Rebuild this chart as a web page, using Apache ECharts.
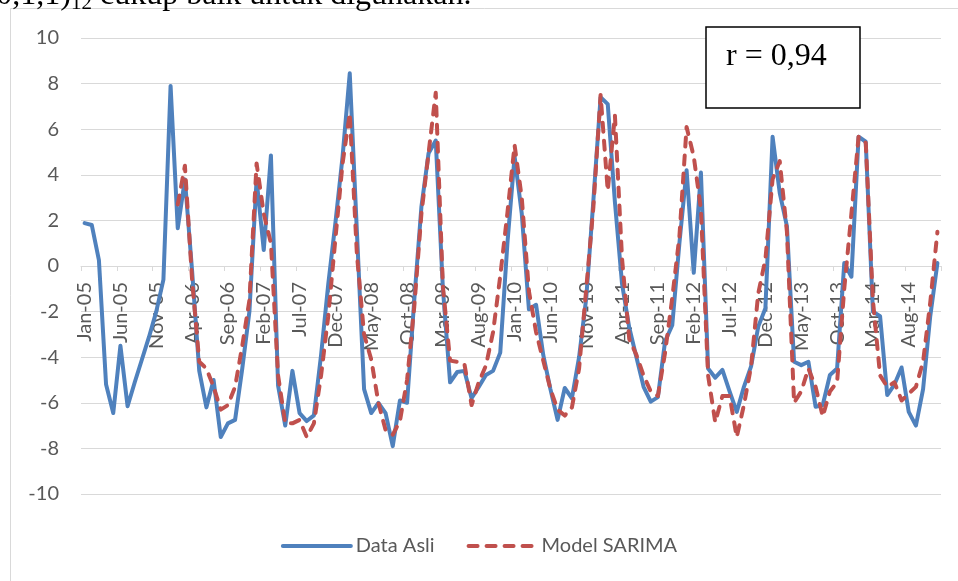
<!DOCTYPE html>
<html>
<head>
<meta charset="utf-8">
<script src="https://cdn.jsdelivr.net/npm/echarts@6/dist/echarts.min.js"></script>
<style>
  html, body { margin: 0; padding: 0; background: #fff; }
  #main { width: 958px; height: 581px; }
</style>
</head>
<body>
<div id="main"></div>
<script>
// bulan dan tahun untuk sumbu x (Jan-05 .. Dec-14)
var months = ['Jan', 'Feb', 'Mar', 'Apr', 'May', 'Jun', 'Jul', 'Aug', 'Sep', 'Oct', 'Nov', 'Dec'];
var years = ['05', '06', '07', '08', '09', '10', '11', '12', '13', '14'];
var categories = [];
years.forEach(function (y) {
  months.forEach(function (m) { categories.push(m + '-' + y); });
});

var yTicks = [-10, -8, -6, -4, -2, 0, 2, 4, 6, 8, 10];

// data asli
var dataAsli = [
  1.88, 1.80, 0.26, -5.2, -6.45, -3.5, -6.15, -5.1, -4.1, -3.1, -2.0, -0.6,
  7.9, 1.66, 3.8, -0.2, -4.6, -6.2, -5.0, -7.5, -6.9, -6.75, -4.5, -2.0,
  3.8, 0.7, 4.85, -5.25, -7.0, -4.6, -6.45, -6.8, -6.55, -3.9, -0.8, 1.9,
  4.8, 8.45, 1.5, -5.4, -6.45, -6.0, -6.45, -7.9, -5.9, -6.0, -1.5, 2.6,
  4.95, 5.5, -1.0, -5.1, -4.65, -4.6, -5.8, -5.3, -4.78, -4.6, -3.8, 1.0,
  4.8, 2.3, -1.9, -1.7, -3.9, -5.4, -6.75, -5.35, -5.8, -4.0, -1.4, 2.9,
  7.4, 7.1, 2.8, -0.8, -2.7, -4.0, -5.3, -5.95, -5.75, -3.3, -2.6, 1.0,
  4.2, -0.3, 4.1, -4.5, -4.9, -4.56, -5.5, -6.4, -5.3, -4.4, -2.66, -1.85,
  5.67, 3.2, 1.75, -4.2, -4.35, -4.2, -6.17, -6.1, -4.78, -4.5, 0.13, -0.47,
  5.67, 5.45, -2.0, -2.2, -5.66, -5.2, -4.45, -6.4, -7.0, -5.4, -2.2, 0.13
];

// model SARIMA (13 bulan pertama kosong)
var modelSarima = [
  null, null, null, null, null, null, null, null, null, null, null, null,
  null, 2.7, 4.4, -0.6, -4.2, -4.5, -5.3, -6.3, -6.1, -5.3, -3.5, -1.5,
  4.5, 2.3, 1.0, -4.8, -6.9, -6.9, -6.75, -7.5, -6.9, -4.8, -2.2, 1.2,
  4.5, 6.7, 0.5, -3.0, -4.1, -6.0, -7.2, -7.4, -6.8, -5.0, -1.8, 2.3,
  4.96, 7.6, -0.9, -4.15, -4.2, -4.3, -6.1, -5.1, -4.37, -2.9, -0.44, 2.33,
  5.3, 3.0, -1.1, -2.9, -4.15, -5.4, -6.3, -6.56, -6.2, -4.5, -1.0, 2.6,
  7.5, 3.3, 6.6, 0.3, -3.2, -3.9, -4.8, -5.5, -5.7, -3.8, -1.4, 1.3,
  6.1, 4.8, 2.5, -4.8, -6.85, -5.7, -5.7, -7.5, -6.1, -4.4, -1.2, 0.3,
  3.8, 4.6, 1.5, -6.0, -5.5, -4.5, -5.3, -6.6, -5.5, -5.1, -1.0, 2.3,
  5.67, 5.4, -1.5, -4.8, -5.3, -5.1, -5.9, -5.6, -5.3, -4.2, -1.6, 1.5
];

var labelFont = 'Lato';
var grey = '#595959';
var gridGrey = '#d9d9d9';

var myChart = echarts.init(document.getElementById('main'));
myChart.setOption({
  animation: false,
  backgroundColor: '#fff',
  grid: { left: 81, right: 17, top: 38, bottom: 87, containLabel: false },
  xAxis: {
    type: 'category',
    data: categories,
    boundaryGap: true,
    // sumbu x digeser ke garis nol
    offset: -228,
    axisLine: { onZero: false, lineStyle: { color: gridGrey, width: 1 } },
    axisTick: { show: true, interval: 4, length: 5, lineStyle: { color: gridGrey } },
    axisLabel: {
      interval: 4, rotate: 90, margin: 16,
      color: grey, fontSize: 20, fontFamily: labelFont
    },
    splitLine: { show: false }
  },
  yAxis: {
    type: 'value',
    min: yTicks[0], max: yTicks[yTicks.length - 1], interval: 2,
    axisLine: { show: false },
    axisTick: { show: false },
    axisLabel: { color: grey, fontSize: 20, fontFamily: labelFont, margin: 22 },
    splitLine: { lineStyle: { color: gridGrey, width: 1 } }
  },
  legend: {
    bottom: 20,
    left: 'center',
    itemWidth: 68,
    itemHeight: 14,
    itemGap: 32,
    itemStyle: { opacity: 0, borderWidth: 0 },
    lineStyle: { width: 4 },
    textStyle: { color: grey, fontSize: 20, fontFamily: labelFont },
    data: ['Data Asli', 'Model SARIMA']
  },
  series: [
    {
      name: 'Data Asli',
      type: 'line',
      data: dataAsli,
      symbol: 'none',
      lineStyle: { color: '#4f81bd', width: 4, join: 'round', cap: 'round' },
      itemStyle: { color: '#4f81bd' }
    },
    {
      name: 'Model SARIMA',
      type: 'line',
      data: modelSarima,
      symbol: 'none',
      lineStyle: { color: '#c0504d', width: 4, type: [9, 9], cap: 'round', join: 'round' },
      itemStyle: { color: '#c0504d' }
    }
  ],
  graphic: [
    {
      type: 'rect', silent: true, z: -10,
      shape: { x: 10.5, y: 8.5, width: 980, height: 620 },
      style: { fill: 'none', stroke: gridGrey, lineWidth: 1 }
    },
    // potongan kalimat dokumen di atas grafik
    {
      type: 'text', silent: true, x: 71, y: 12,
      style: { text: '(0,1,1)', font: '32px "Liberation Serif"', fill: '#000', align: 'right', verticalAlign: 'bottom' }
    },
    {
      type: 'text', silent: true, x: 71, y: 14,
      style: { text: '12', font: '21px "Liberation Serif"', fill: '#000', align: 'left', verticalAlign: 'bottom' }
    },
    {
      type: 'text', silent: true, x: 100, y: 12,
      style: { text: 'cukup baik untuk digunakan.', font: '32px "Liberation Serif"', fill: '#000', align: 'left', verticalAlign: 'bottom' }
    },
    {
      type: 'rect', silent: true, z: 100,
      shape: { x: 706, y: 27, width: 154, height: 81 },
      style: { fill: '#fff', stroke: '#000', lineWidth: 1.5 }
    },
    {
      type: 'text', silent: true, z: 101, x: 726, y: 57,
      style: { text: 'r = 0,94', font: '32px "Liberation Serif"', fill: '#000', align: 'left', verticalAlign: 'middle' }
    }
  ]
});
</script>
</body>
</html>
